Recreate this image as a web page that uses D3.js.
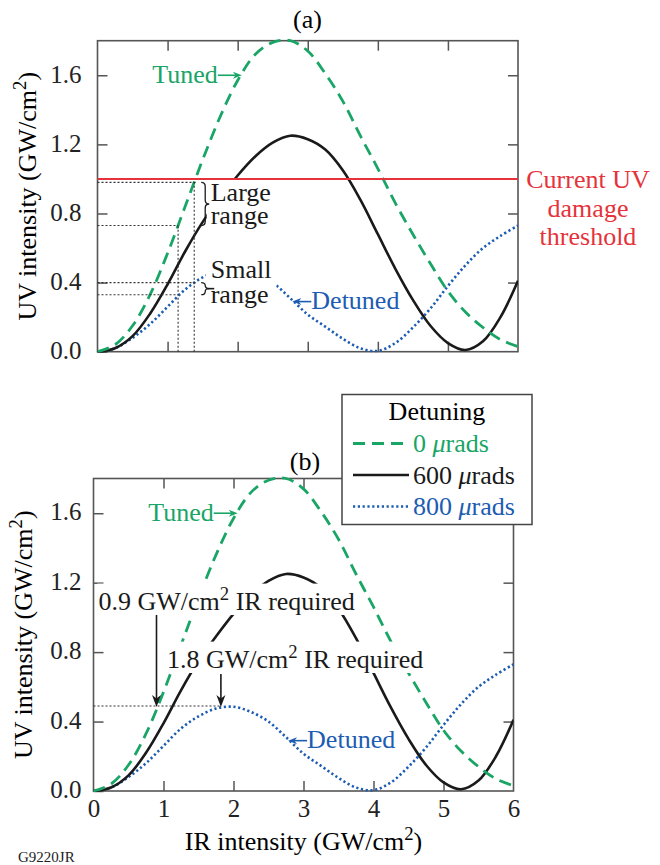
<!DOCTYPE html>
<html><head><meta charset="utf-8">
<script src="https://cdn.jsdelivr.net/npm/d3@7"></script>
<style>
body{margin:0;background:#fff}
svg{display:block}
text{font-family:"Liberation Serif","Times New Roman",serif}
</style>
</head><body>
<svg id="c" width="660" height="865"></svg>
<script>
// ---- data ----
const irGrid        = [0,0.25,0.5,0.75,1.0,1.25,1.5,1.75,2.0,2.25,2.5,2.75,3.0,3.25,3.5,3.75,4.0,4.25,4.5,4.75,5.0,5.25,5.5,5.75,6.0];
const tunedUV       = [0,0.04,0.15,0.33,0.57,0.84,1.11,1.36,1.57,1.72,1.79,1.80,1.74,1.61,1.45,1.25,1.06,0.86,0.68,0.51,0.35,0.23,0.14,0.07,0.03];
const detuned600UV  = [0,0.02,0.09,0.22,0.39,0.58,0.75,0.89,1.02,1.13,1.21,1.25,1.23,1.17,1.05,0.88,0.68,0.48,0.30,0.15,0.05,0.01,0.06,0.20,0.41];
const detuned800UV  = [0,0.02,0.08,0.16,0.26,0.36,0.43,0.475,0.485,0.455,0.40,0.31,0.215,0.145,0.075,0.02,0.005,0.05,0.14,0.25,0.38,0.50,0.60,0.67,0.73];
const yTicks = [0,0.4,0.8,1.2,1.6];
const xTicks = [0,1,2,3,4,5,6];
const seriesNames  = ["0","600","800"];
const threshold = 1.0;
const rangeIR = [1.15, 1.38];
const tunedRange = [0.73, 0.98];
const detunedRange = [0.33, 0.40];
const requiredIR = [0.9, 1.82];
const requiredUV = 0.49;

const GREEN = "#19a566", BLACK = "#1a1a1a", BLUE = "#1c5cb2", RED = "#e5323b", FRAME = "#555";
const FS = 26, TFS = 25;

const svg = d3.select("#c");

function rich(t, segs, fs) {
  let shifted = false;
  segs.forEach(s => {
    const ts = t.append("tspan").text(s.t);
    if (s.sup) { ts.attr("font-size", fs*0.72).attr("dy", -fs*0.40); shifted = true; }
    else if (shifted) { ts.attr("dy", fs*0.40); shifted = false; }
    if (s.it) ts.attr("font-style", "italic");
  });
  return t;
}
const gwcm = [{t:"GW/cm"},{t:"2",sup:true}];

function arrow(g, x1, y1, x2, y2, color, len, wid) {
  g.append("line").attr("x1",x1).attr("y1",y1).attr("x2",x2 - (x2-x1)/Math.hypot(x2-x1,y2-y1)*len*0.6)
    .attr("y2",y2 - (y2-y1)/Math.hypot(x2-x1,y2-y1)*len*0.6).attr("stroke",color).attr("stroke-width",1.6);
  const a = Math.atan2(y2-y1, x2-x1);
  const ux = Math.cos(a), uy = Math.sin(a), px = -uy, py = ux;
  const bx = x2 - ux*len, by = y2 - uy*len;
  const nx = x2 - ux*len*0.7, ny = y2 - uy*len*0.7;
  g.append("path").attr("d",
    `M${x2},${y2}L${bx+px*wid/2},${by+py*wid/2}L${nx},${ny}L${bx-px*wid/2},${by-py*wid/2}Z`)
    .attr("fill", color);
}

function brace(g, x0, y1, y2, w) {
  const xm = x0 + w/2, ym = (y1+y2)/2, r = Math.min(4, (y2-y1)/4);
  g.append("path").attr("d",
    `M${x0},${y1}Q${xm},${y1} ${xm},${y1+r}L${xm},${ym-r}Q${xm},${ym} ${x0+w},${ym}` +
    `Q${xm},${ym} ${xm},${ym+r}L${xm},${y2-r}Q${xm},${y2} ${x0},${y2}`)
    .attr("fill","none").attr("stroke",BLACK).attr("stroke-width",1.3);
}

function whiteBox(g, textSel, pad) {
  const bb = textSel.node().getBBox();
  g.insert("rect", () => textSel.node())
    .attr("x", bb.x - pad).attr("y", bb.y + 1).attr("width", bb.width + 2*pad).attr("height", bb.height - 2)
    .attr("fill", "#fff");
}

function panel(id, geo, showX) {
  const x = d3.scaleLinear().domain([0,6]).range([geo.l, geo.r]);
  const y = d3.scaleLinear().domain([0,1.8]).range([geo.b, geo.t]);
  const g = svg.append("g");

  g.append("clipPath").attr("id","clip"+id).append("rect")
    .attr("x",geo.l).attr("y",geo.t-3).attr("width",geo.r-geo.l).attr("height",geo.b-geo.t+4);

  // ticks
  const yl = g.append("g").attr("transform",`translate(${geo.l},0)`)
    .call(d3.axisLeft(y).tickValues(yTicks).tickSize(-10).tickPadding(geo.lp).tickFormat(d3.format(".1f")));
  const yr = g.append("g").attr("transform",`translate(${geo.r},0)`)
    .call(d3.axisRight(y).tickValues(yTicks.slice(1)).tickSize(-10).tickFormat(""));
  const xt = g.append("g").attr("transform",`translate(0,${geo.t})`)
    .call(d3.axisTop(x).tickValues(xTicks.slice(1,6)).tickSize(-10).tickFormat(""));
  const xb = g.append("g").attr("transform",`translate(0,${geo.b})`)
    .call(d3.axisBottom(x).tickValues(showX ? xTicks : xTicks.slice(1,6)).tickSize(-10).tickPadding(8)
      .tickFormat(showX ? d3.format("d") : ""));
  [yl,yr,xt,xb].forEach(a => {
    a.select(".domain").remove();
    a.selectAll("line").attr("stroke",FRAME).attr("stroke-width",1.5);
    a.selectAll("text").attr("font-size",TFS).attr("fill","#222")
      .style("font-family",'"Liberation Serif","Times New Roman",serif');
  });
  yl.selectAll("text").attr("dy","0.27em");
  xb.selectAll("line").filter(d => d === 0 || d === 6).remove();

  g.append("rect").attr("x",geo.l).attr("y",geo.t).attr("width",geo.r-geo.l).attr("height",geo.b-geo.t)
    .attr("fill","none").attr("stroke",FRAME).attr("stroke-width",1.6);

  const line = vals => d3.line().x((d,i)=>x(irGrid[i])).y(d=>y(d)).curve(d3.curveCatmullRom.alpha(0.5))(vals);
  const cg = g.append("g").attr("clip-path",`url(#clip${id})`);
  cg.append("path").attr("d",line(detuned800UV)).attr("fill","none").attr("stroke",BLUE)
    .attr("stroke-width",2.6).attr("stroke-dasharray","2.2,2.6");
  cg.append("path").attr("d",line(detuned600UV)).attr("fill","none").attr("stroke",BLACK).attr("stroke-width",2.6);
  cg.append("path").attr("d",line(tunedUV)).attr("fill","none").attr("stroke",GREEN)
    .attr("stroke-width",2.8).attr("stroke-dasharray","12,7");

  // Tuned / Detuned labels
  const tTip = [x(2.06), y(1.6)];
  g.append("text").attr("x",tTip[0]-24).attr("y",tTip[1]+8).attr("text-anchor","end")
    .attr("font-size",FS).attr("fill",GREEN).text("Tuned");
  arrow(g, tTip[0]-24, tTip[1], tTip[0], tTip[1], GREEN, 9, 7);
  const dTip = [x(2.78), y(0.29)];
  g.append("text").attr("x",dTip[0]+19).attr("y",dTip[1]+7).attr("font-size",FS).attr("fill",BLUE).text("Detuned");
  arrow(g, dTip[0]+19, dTip[1], dTip[0], dTip[1], BLUE, 9, 7);

  return {x, y, g};
}

// ---------- Panel (a) ----------
const A = panel("a", {l:97.5, r:518, t:40.7, b:351.7, lp:16}, false);
{
  const {x,y,g} = A;
  svg.append("text").attr("x",307.5).attr("y",28).attr("text-anchor","middle").attr("font-size",FS).text("(a)");
  // dotted guide lines
  const dl = (x1,y1,x2,y2) => g.append("line").attr("x1",x1).attr("y1",y1).attr("x2",x2).attr("y2",y2)
     .attr("stroke","#333").attr("stroke-width",1.1).attr("stroke-dasharray","2,2");
  dl(x(0), y(tunedRange[1]), x(rangeIR[1])+2, y(tunedRange[1]));
  dl(x(0), y(tunedRange[0]), x(rangeIR[0]), y(tunedRange[0]));
  dl(x(0), y(detunedRange[1]), x(rangeIR[1])+2, y(detunedRange[1]));
  dl(x(0), y(detunedRange[0]), x(rangeIR[0]), y(detunedRange[0]));
  dl(x(rangeIR[0]), y(0), x(rangeIR[0]), y(tunedRange[0]));
  dl(x(rangeIR[1]), y(0), x(rangeIR[1]), y(tunedRange[1]));

  const lx = x(rangeIR[1]) + 16.5;
  const large = g.append("text").attr("font-size",FS).attr("fill",BLACK);
  large.append("tspan").attr("x",lx).attr("y",y(tunedRange[1])+19).text("Large");
  large.append("tspan").attr("x",lx).attr("y",y(tunedRange[1])+42).text("range");
  whiteBox(g, large, 4);
  const small = g.append("text").attr("font-size",FS).attr("fill",BLACK);
  small.append("tspan").attr("x",lx).attr("y",y(detunedRange[1])-5).text("Small");
  small.append("tspan").attr("x",lx).attr("y",y(detunedRange[1])+20).text("range");
  whiteBox(g, small, 5);

  brace(g, x(rangeIR[1])+7, y(tunedRange[1]), y(tunedRange[0]), 8);
  brace(g, x(rangeIR[1])+7, y(detunedRange[1]), y(detunedRange[0]), 8);
  const ym = (y(detunedRange[1])+y(detunedRange[0]))/2;
  g.append("line").attr("x1",x(rangeIR[1])+14).attr("x2",x(rangeIR[1])+20).attr("y1",ym).attr("y2",ym)
    .attr("stroke",BLACK).attr("stroke-width",1.6);

  // threshold
  g.append("line").attr("x1",x(0)).attr("x2",x(6)).attr("y1",y(threshold)).attr("y2",y(threshold))
    .attr("stroke",RED).attr("stroke-width",2);
  const rt = svg.append("text").attr("font-size",FS).attr("fill",RED).attr("text-anchor","middle");
  ["Current UV","damage","threshold"].forEach((s,i)=>
    rt.append("tspan").attr("x",588).attr("y",y(threshold)+9.5+i*28.5).text(s));

  // y label
  rich(svg.append("text").attr("transform",`translate(36,${(y(0)+y(1.8))/2}) rotate(-90)`)
    .attr("text-anchor","middle").attr("font-size",FS),
    [{t:"UV intensity ("}, ...gwcm, {t:")"}], FS);
}

// ---------- Panel (b) ----------
const B = panel("b", {l:93.5, r:513.5, t:478.5, b:791, lp:12}, true);
{
  const {x,y,g} = B;
  svg.append("text").attr("x",305).attr("y",470).attr("text-anchor","middle").attr("font-size",FS).text("(b)");
  g.append("line").attr("x1",x(0)).attr("x2",x(requiredIR[1])).attr("y1",y(requiredUV)).attr("y2",y(requiredUV))
    .attr("stroke","#333").attr("stroke-width",1.1).attr("stroke-dasharray","2,2");

  const t1 = rich(g.append("text").attr("x",98.5).attr("y",610).attr("font-size",FS).attr("fill",BLACK),
    [{t:"0.9 "}, ...gwcm, {t:" IR required"}], FS);
  whiteBox(g, t1, 1);
  const t2 = rich(g.append("text").attr("x",167).attr("y",668).attr("font-size",FS).attr("fill",BLACK),
    [{t:"1.8 "}, ...gwcm, {t:" IR required"}], FS);
  whiteBox(g, t2, 1);
  arrow(g, x(requiredIR[0]), 615, x(requiredIR[0]), y(requiredUV)+1, BLACK, 12, 9);
  arrow(g, x(requiredIR[1]), 674, x(requiredIR[1]), y(requiredUV)+1, BLACK, 12, 9);

  // x label
  rich(svg.append("text").attr("x",(x(0)+x(6))/2).attr("y",850).attr("text-anchor","middle").attr("font-size",FS),
    [{t:"IR intensity ("}, ...gwcm, {t:")"}], FS);
  rich(svg.append("text").attr("transform",`translate(32,${(y(0)+y(1.8))/2}) rotate(-90)`)
    .attr("text-anchor","middle").attr("font-size",FS),
    [{t:"UV intensity ("}, ...gwcm, {t:")"}], FS);

  // legend
  const L = svg.append("g");
  L.append("rect").attr("x",342).attr("y",394.5).attr("width",190).attr("height",130)
    .attr("fill","#fff").attr("stroke","#444").attr("stroke-width",1.5);
  L.append("text").attr("x",437).attr("y",420).attr("text-anchor","middle").attr("font-size",FS).text("Detuning");
  const styles = [
    {c:GREEN, w:2.8, d:"12,7"},
    {c:BLACK, w:2.6, d:null},
    {c:BLUE,  w:2.6, d:"2.2,2.6"}
  ];
  seriesNames.forEach((n,i) => {
    const by = 452 + i*31.5;
    const ln = L.append("line").attr("x1",353).attr("x2",409).attr("y1",by-8.5).attr("y2",by-8.5)
      .attr("stroke",styles[i].c).attr("stroke-width",styles[i].w);
    if (styles[i].d) ln.attr("stroke-dasharray",styles[i].d);
    rich(L.append("text").attr("x",413).attr("y",by).attr("font-size",FS).attr("fill",styles[i].c),
      [{t:n+" "},{t:"\u03BC",it:true},{t:"rads"}], FS);
  });
}
svg.append("text").attr("x",18).attr("y",862).attr("font-size",15).attr("fill","#222").text("G9220JR");
</script>
</body></html>
